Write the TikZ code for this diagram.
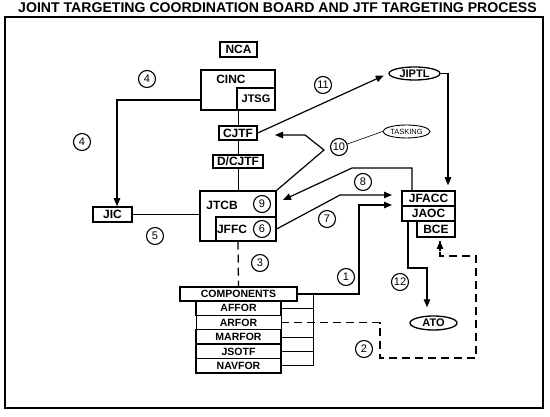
\documentclass[tikz,border=0pt]{standalone}
\usepackage{fontspec}
\setmainfont{Liberation Sans}
\usetikzlibrary{arrows.meta,shapes.geometric}
\newcommand\lblfont{\bfseries\fontsize{12}{12}\selectfont}
\newcommand\compfont{\bfseries\fontsize{10.5}{10.5}\selectfont}
\newcommand\numfont{\fontsize{11}{11}\selectfont}
\begin{document}
\begin{tikzpicture}[x=1pt,y=-1pt,
  box/.style={draw, line width=1.5pt, inner sep=0pt, font=\lblfont},
  boxe/.style={draw, line width=1.3pt, inner sep=0pt},
  lbl/.style={inner sep=0pt, font=\lblfont},
  cbox/.style={draw, line width=1.4pt, inner sep=0pt, font=\compfont, minimum width=85pt, minimum height=14.4pt},
  num/.style={circle, draw, line width=1.1pt, minimum size=17pt, inner sep=0pt, font=\numfont},
  oval/.style={ellipse, draw, line width=1.3pt, inner sep=0pt, font=\bfseries\fontsize{11}{11}\selectfont},
  conn/.style={line width=1.2pt},
  arr/.style={line width=1.2pt, -{Triangle[length=8pt,width=6.5pt]}},
  thin/.style={line width=0.6pt},
  dashline/.style={line width=1.3pt, dash pattern=on 8pt off 5pt}
]
\useasboundingbox (0,0) rectangle (550,417);
\fill[white] (0,0) rectangle (550,417);
% title and frame
\node[font=\bfseries\fontsize{14.1}{14}\selectfont, inner sep=0pt] (title) at (277.5,7.5) {JOINT TARGETING COORDINATION BOARD AND JTF TARGETING PROCESS};
\draw[line width=2pt] (5,17) rectangle (543,408);

% boxes
\node[box, minimum width=37pt, minimum height=15pt] (nca) at (238.5,49.5) {NCA};
\node[boxe, minimum width=74pt, minimum height=40pt] (cinc) at (238,90) {};
\node[lbl] (cinct) at (231,79) {CINC};
\node[box, minimum width=38pt, minimum height=22pt, font=\bfseries\fontsize{11}{11}\selectfont] (jtsg) at (256,99) {JTSG};
\node[box, minimum width=38pt, minimum height=14pt] (cjtf) at (238,133) {CJTF};
\node[box, minimum width=50pt, minimum height=13pt] (dcjtf) at (238,161.5) {D/CJTF};
\node[boxe, minimum width=76pt, minimum height=50pt] (jtcb) at (238,216) {};
\node[lbl] (jtcbt) at (222,205) {JTCB};
\node[boxe, minimum width=60pt, minimum height=24pt] (jffc) at (246,229) {};
\node[lbl] (jffct) at (232,229) {JFFC};
\node[num] (n9) at (262,204) {9};
\node[num] (n6) at (262,229) {6};
\node[box, minimum width=39pt, minimum height=15pt] (jic) at (112.5,214.5) {JIC};

\node[box, font=\compfont, minimum width=117pt, minimum height=14pt] (comp) at (238.5,294) {COMPONENTS};
\node[cbox] (affor) at (238.5,308.2) {AFFOR};
\node[cbox, line width=0.8pt] (arfor) at (238.5,322.6) {ARFOR};
\node[cbox] (marfor) at (238.5,337) {MARFOR};
\node[cbox] (jsotf) at (238.5,351.4) {JSOTF};
\node[cbox] (navfor) at (238.5,365.8) {NAVFOR};

\node[box, minimum width=53pt, minimum height=15pt] (jfacc) at (428.5,198.5) {JFACC};
\node[box, minimum width=53pt, minimum height=15pt] (jaoc) at (428.5,213.5) {JAOC};
\node[box, line width=1.1pt, minimum width=38pt, minimum height=16pt] (bce) at (436,229) {BCE};

\node[oval, minimum width=51pt, minimum height=13pt] (jiptl) at (414.5,73.5) {JIPTL};
\node[oval, line width=0.9pt, minimum width=47pt, minimum height=13pt, font=\fontsize{7.5}{7.5}\selectfont] (tasking) at (406.5,131.5) {TASKING};
\node[oval, minimum width=47pt, minimum height=14pt] (ato) at (433.5,323) {ATO};

% numbered circles
\node[num] (n4a) at (147,79) {4};
\node[num] (n4b) at (82,142) {4};
\node[num] (n11) at (323,85) {11};
\node[num] (n10) at (339,147) {10};
\node[num] (n8) at (363,182) {8};
\node[num] (n7) at (327,219) {7};
\node[num] (n5) at (155,236) {5};
\node[num] (n3) at (260,263) {3};
\node[num] (n1) at (346,277) {1};
\node[num] (n12) at (400,282) {12};
\node[num] (n2) at (364,349) {2};

% connectors
\coordinate (k4) at (117,100);
\draw[arr] (cinc.west |- k4) -- (k4) -- (k4 |- jic.north);
\draw[thin, line width=0.8pt] (cinc.south) -- (cjtf.north) (cjtf.south) -- (dcjtf.north) (dcjtf.south) -- (jtcb.north);
\draw[conn] (jic.east) -- (jic.east -| jtcb.west);
\draw[dashline] (jtcb.south) -- (comp.north);

\coordinate (k1a) at (359,294);
\coordinate (k1b) at (359,205);
\coordinate (k1c) at (392,205);
\draw[arr] (comp.east) -- (k1a) -- (k1b) -- (k1c);

\coordinate (sv1) at (313,294);
\draw[thin] (sv1) -- (sv1 |- navfor.east);
\foreach \n in {affor,marfor,jsotf,navfor} \draw[thin] (\n.east) -- (\n.east -| sv1);

\coordinate (d1) at (380,358);
\coordinate (d2) at (476,358);
\coordinate (d3) at (476,256);
\coordinate (d4) at (440,256);
\coordinate (d5) at (440,241);
\draw[dashline] (arfor.east) -- (arfor.east -| d1) -- (d1) -- (d2) -- (d3) -- (d4) -- (d5);
\draw[arr] (d4) ++(0,-5) -- (d5);

\coordinate (t1) at (408,268);
\coordinate (t2) at (427,268);
\draw[arr, shorten >=8pt] (jaoc.south -| t1) -- (t1) -- (t2) -- (t2 |- ato.north);

\coordinate (j1) at (448,73.5);
\draw[arr, shorten >=5pt] (jiptl.east) -- (j1) -- (j1 |- jfacc.north);
\draw[arr, shorten >=5pt] (cjtf.east) -- (jiptl.west);

\coordinate (p10a) at (324,150);
\coordinate (p10b) at (305,135);
\coordinate (p10c) at (275,135);
\draw[arr] (jtcb.north east) -- (p10a) -- (p10b) -- (p10c);
\draw[thin] (n10) -- (tasking.west);

\coordinate (p8a) at (412,168);
\coordinate (p8b) at (352,168);
\coordinate (p8c) at (283,200);
\draw[arr] (jfacc.north -| p8a) -- (p8a) -- (p8b) -- (p8c);

\coordinate (p7a) at (340,195);
\coordinate (p7b) at (392,195);
\draw[arr] (jffc.east) -- (p7a) -- (p7b);
\end{tikzpicture}
\end{document}
